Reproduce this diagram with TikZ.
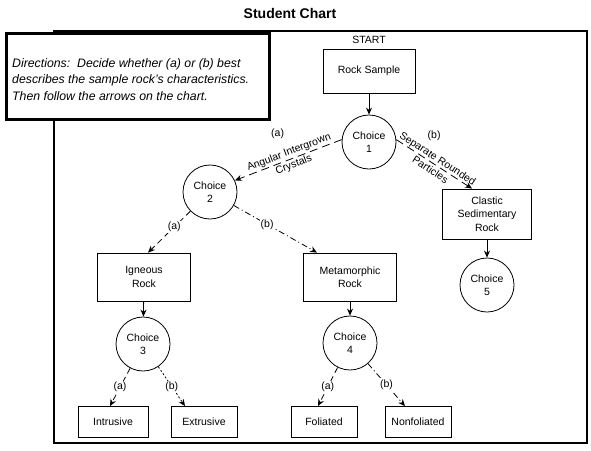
\documentclass[tikz,border=0pt]{standalone}
\usepackage{fontspec}
\setmainfont{Liberation Sans}
\usetikzlibrary{arrows.meta, positioning, calc}
\newcommand\chartfont{\fontsize{10.5}{13.5}\selectfont}
\tikzset{
  rockbox/.style  = {draw, line width=0.8pt, minimum width=93pt, minimum height=48pt,
                     font=\chartfont, align=center, inner sep=2pt},
  endbox/.style   = {draw, line width=0.8pt, minimum width=66pt, minimum height=31pt,
                     font=\chartfont, inner sep=2pt},
  choice/.style   = {draw, circle, line width=0.8pt, minimum size=54pt,
                     font=\chartfont, align=center, inner sep=0pt},
  dirbox/.style   = {draw, line width=2.6pt, fill=white, minimum width=263pt,
                     minimum height=86pt, inner sep=0pt},
  dirtext/.style  = {font=\fontsize{12.3}{16.5}\selectfont\itshape, align=left, inner sep=0pt},
  flow/.style     = {-{Stealth[length=7pt,width=6pt]}, line width=0.8pt},
  dashA/.style    = {flow, dash pattern=on 6pt off 4pt},
  dashB/.style    = {flow, dash pattern=on 6pt off 3pt on 1pt off 3pt},
  dashC/.style    = {flow, dash pattern=on 2pt off 2pt},
  branch/.style   = {font=\chartfont, fill=white, inner sep=1pt},
  slopelbl/.style = {font=\chartfont, sloped, align=center, inner sep=0pt},
}

\begin{document}
\begin{tikzpicture}[x=1pt, y=-1pt]
    \useasboundingbox (0,0) rectangle (591,450);
    \node[font=\fontsize{14}{16}\selectfont\bfseries] (title) at (290,13) {Student Chart};

    % outer frame + directions
    \draw[line width=2.6pt] (54,31) rectangle (587,443);
    \node[dirbox, anchor=north west] (dir) at (5,32) {};
    \node[dirtext, anchor=north west] (dirtxt) at ($(dir.north west)+(7,26)$)
      {Directions:\ \ Decide whether (a) or (b) best\\
       describes the sample rock's characteristics.\\
       Then follow the arrows on the chart.};

    % Row 1 : start
    \node[rockbox, minimum width=92pt, minimum height=44pt] (rock) at (369,71) {Rock Sample};
    \node[font=\chartfont, above=1pt of rock] (start) {START};
    \node[choice] (c1) at (369,142) {Choice\\1};
    % Row 2
    \node[choice] (c2) at (210,192) {Choice\\2};
    \node[rockbox, minimum width=89pt, minimum height=50pt] (clastic) at (487,214)
      {Clastic\\Sedimentary\\Rock};
    \node[choice] (c5) at (487,285) {Choice\\5};
    % Row 3
    \node[rockbox] (igneous) at (144,277) {Igneous\\Rock};
    \node[rockbox] (meta)    at (350,277) {Metamorphic\\Rock};
    \node[choice]  (c3)      at (143,344) {Choice\\3};
    \node[choice]  (c4)      at (350,343) {Choice\\4};
    % Row 4 : end boxes
    \node[endbox, minimum width=70pt] (intr)   at (113,422) {Intrusive};
    \node[endbox]                     (extr)   at (204,422) {Extrusive};
    \node[endbox]                     (fol)    at (324,422) {Foliated};
    \node[endbox]                     (nonfol) at (418,422) {Nonfoliated};

    \draw[flow] (rock) -- (c1);
    \draw[flow] (clastic) -- (c5);
    \draw[flow] (igneous) -- (c3);
    \draw[flow] (meta) -- (c4);

    \draw[flow, dash pattern=on 8pt off 5pt] (c1.175) -- (c2.25)
      node[slopelbl, pos=0.47] {Angular Intergrown\\Crystals}
      node[branch, pos=0.6, above=24pt] {(a)};
    \draw[flow, dash pattern=on 8pt off 5pt] (c1.5) -- ([xshift=-15pt]clastic.north)
      node[slopelbl, midway] {Separate Rounded\\Particles}
      node[branch, pos=0.5, above=22pt] {(b)};

    \draw[dashA] (c2) -- ([xshift=4pt]igneous.north) node[branch, pos=0.38] {(a)};
    \draw[dashB] (c2) -- ([xshift=-33pt]meta.north) node[branch, pos=0.4] {(b)};
    \draw[dashA] (c3) -- ([xshift=-3pt]intr.north) node[branch, pos=0.5] {(a)};
    \draw[dashC] (c3) -- ([xshift=-19pt]extr.north) node[branch, pos=0.5] {(b)};
    \draw[dashA] (c4) -- ([xshift=-6pt]fol.north) node[branch, pos=0.5] {(a)};
    \draw[dashB] (c4) -- ([xshift=-13pt]nonfol.north) node[branch, pos=0.5] {(b)};
\end{tikzpicture}
\end{document}
